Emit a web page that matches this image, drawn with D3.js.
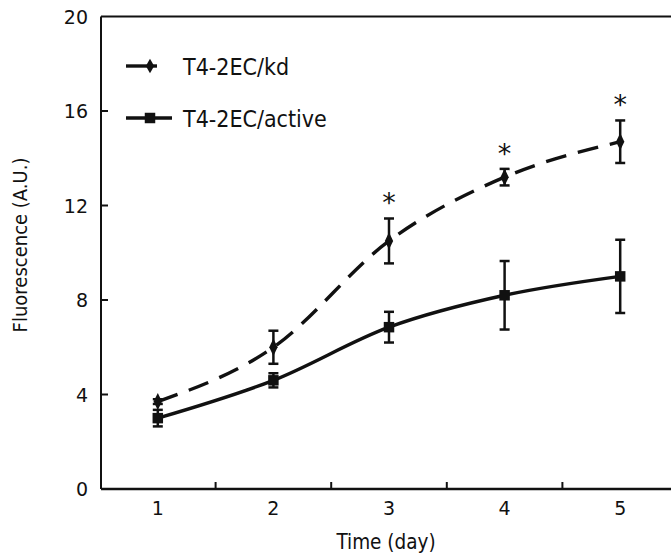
<!DOCTYPE html>
<html>
<head>
<meta charset="utf-8">
<script src="https://cdn.jsdelivr.net/npm/d3@7"></script>
<style>
  body { margin: 0; background: #fff; }
  text { font-family: "DejaVu Sans", sans-serif; fill: #111; }
  text.cond { font-family: "DejaVu Sans Condensed", "DejaVu Sans", sans-serif; font-stretch: condensed; }
</style>
</head>
<body>
<div id="chart"></div>
<script>
// data
const days = [1, 2, 3, 4, 5];
const kdMean = [3.7, 6.0, 10.5, 13.2, 14.7];
const kdErr = [0.1, 0.7, 0.95, 0.35, 0.9];
const activeMean = [3.0, 4.6, 6.85, 8.2, 9.0];
const activeErr = [0.35, 0.3, 0.65, 1.45, 1.55];
const starDays = [3, 4, 5];
const yTicks = [0, 4, 8, 12, 16, 20];
const xTicks = [1, 2, 3, 4, 5];
const minorTicks = [1.5, 2.5, 3.5, 4.5];

const width = 671, height = 557;
const margin = {top: 16, right: 0, bottom: 68, left: 101};

const svg = d3.select('#chart').append('svg')
    .attr('width', width)
    .attr('height', height);

const x = d3.scaleLinear().domain([0.5, 5.5]).range([100, 678]);
const y = d3.scaleLinear().domain([0, 20]).range([489, 16.5]);

//axes frame
svg.append('line')
    .attr('x1', margin.left).attr('x2', width)
    .attr('y1', y(0)).attr('y2', y(0))
    .attr('stroke', '#111').attr('stroke-width', 2.5);
svg.append('line')
    .attr('x1', margin.left).attr('x2', width)
    .attr('y1', y(20)).attr('y2', y(20))
    .attr('stroke', '#111').attr('stroke-width', 2);
svg.append('line')
    .attr('x1', margin.left).attr('x2', margin.left)
    .attr('y1', y(0)).attr('y2', y(20))
    .attr('stroke', '#111').attr('stroke-width', 2);

//y ticks (inward) and labels
svg.selectAll('.ytick')
    .data(yTicks.filter(d => d > 0 && d < 20))
    .enter().append('line')
    .attr('x1', margin.left).attr('x2', margin.left + 7)
    .attr('y1', d => y(d)).attr('y2', d => y(d))
    .attr('stroke', '#111').attr('stroke-width', 2);
svg.selectAll('.ylab')
    .data(yTicks)
    .enter().append('text')
    .attr('x', 88)
    .attr('y', d => y(d) + 7)
    .attr('text-anchor', 'end')
    .attr('font-size', 19)
    .text(d => d);

//x ticks (half days, inward) and labels
svg.selectAll('.xtick')
    .data(minorTicks)
    .enter().append('line')
    .attr('x1', d => x(d)).attr('x2', d => x(d))
    .attr('y1', y(0)).attr('y2', y(0) - 7)
    .attr('stroke', '#111').attr('stroke-width', 2);
svg.selectAll('.xlab')
    .data(xTicks)
    .enter().append('text')
    .attr('x', d => x(d))
    .attr('y', 515)
    .attr('text-anchor', 'middle')
    .attr('font-size', 19)
    .text(d => d);

svg.append('text')
    .attr('class', 'cond')
    .attr('x', 386).attr('y', 549)
    .attr('text-anchor', 'middle')
    .attr('font-size', 20.5)
    .text('Time (day)');
svg.append('text')
    .attr('class', 'cond')
    .attr('transform', 'translate(27,245) rotate(-90)')
    .attr('text-anchor', 'middle')
    .attr('font-size', 20)
    .text('Fluorescence (A.U.)');

//lines
const line = d3.line()
    .x((d, i) => x(days[i]))
    .y(d => y(d))
    .curve(d3.curveMonotoneX);

function drawSeries(means, errs, dashed, marker) {
    svg.append('path')
        .attr('d', line(means))
        .attr('fill', 'none')
        .attr('stroke', '#111')
        .attr('stroke-width', 3.4)
        .attr('stroke-dasharray', dashed ? '21,12' : null);

    const g = svg.append('g');
    means.forEach((m, i) => {
        const cx = x(days[i]);
        g.append('line')
            .attr('x1', cx).attr('x2', cx)
            .attr('y1', y(m - errs[i])).attr('y2', y(m + errs[i]))
            .attr('stroke', '#111').attr('stroke-width', 2.5);
        [m - errs[i], m + errs[i]].forEach(v => {
            g.append('line')
                .attr('x1', cx - 5).attr('x2', cx + 5)
                .attr('y1', y(v)).attr('y2', y(v))
                .attr('stroke', '#111').attr('stroke-width', 2.5);
        });
        g.append('path')
            .attr('d', d3.symbol().type(marker).size(marker === d3.symbolSquare ? 110 : 60)())
            .attr('transform', `translate(${cx},${y(m)})` + (marker === d3.symbolSquare ? '' : ' scale(1,1.2)'))
            .attr('fill', '#111');
    });
}

drawSeries(kdMean, kdErr, true, d3.symbolDiamond);
drawSeries(activeMean, activeErr, false, d3.symbolSquare);

//significance stars
svg.selectAll('.star')
    .data(starDays)
    .enter().append('text')
    .attr('x', d => x(d))
    .attr('y', d => y(kdMean[d - 1] + kdErr[d - 1]) - 6)
    .attr('text-anchor', 'middle')
    .attr('font-size', 27)
    .text('*');

//legend
const legend = [
    {name: 'T4-2EC/kd', y: 66, marker: d3.symbolDiamond, x2: 157},
    {name: 'T4-2EC/active', y: 118, marker: d3.symbolSquare, x2: 172}
];
legend.forEach(l => {
    svg.append('line')
        .attr('x1', 126).attr('x2', l.x2)
        .attr('y1', l.y).attr('y2', l.y)
        .attr('stroke', '#111').attr('stroke-width', 3.4);
    svg.append('path')
        .attr('d', d3.symbol().type(l.marker).size(l.marker === d3.symbolSquare ? 110 : 60)())
        .attr('transform', `translate(150,${l.y})`)
        .attr('fill', '#111');
    svg.append('text')
        .attr('class', 'cond')
        .attr('x', 183).attr('y', l.y + 9)
        .attr('font-size', 23)
        .text(l.name);
});
</script>
</body>
</html>
